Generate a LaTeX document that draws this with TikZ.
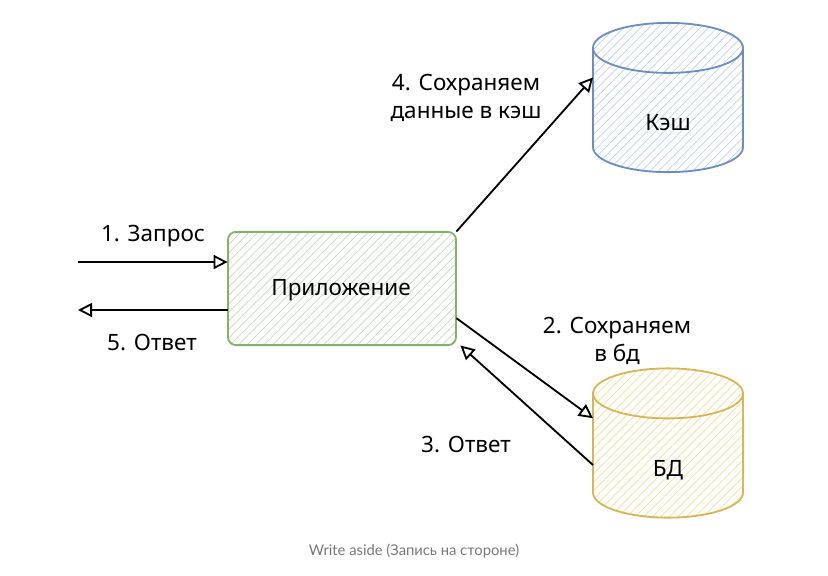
\documentclass[tikz,border=0pt]{standalone}
\usepackage{fontspec}
\setmainfont{Noto Sans}
\newfontfamily\captionfont{Lato}
\usetikzlibrary{arrows.meta,positioning,patterns.meta}
\definecolor{appgreen}{HTML}{82B366}
\definecolor{appgreenhatch}{HTML}{BFDDB6}
\definecolor{cacheblue}{HTML}{6C8EBF}
\definecolor{cachebluehatch}{HTML}{BCCFEC}
\definecolor{dbyellow}{HTML}{D6B656}
\definecolor{dbyellowhatch}{HTML}{F0DE9C}
\definecolor{captiongray}{HTML}{777777}

% cylinder drawn round an invisible box node: #1 node name, #2 stroke, #3 hatch
\newcommand{\drumoutline}[3]{%
  \draw[draw=#2, pattern color=#3, drumline]
    ([yshift=-0.625cm]#1.north west)
      arc[start angle=180, end angle=0, x radius=1.875cm, y radius=0.625cm]
    -- ([yshift=0.625cm]#1.south east)
      arc[start angle=0, end angle=-180, x radius=1.875cm, y radius=0.625cm]
    -- cycle;
  \draw[draw=#2, line width=1.3pt]
    ([yshift=-0.625cm]#1.north west)
      arc[start angle=180, end angle=360, x radius=1.875cm, y radius=0.625cm];
}

\begin{document}
\begin{tikzpicture}[x=0.025cm, y=-0.025cm, >=Stealth,
      font=\fontsize{16}{20}\selectfont,
      hatch/.style={pattern={Lines[angle=45,distance=0.15cm,line width=0.5pt]}},
      appbox/.style={draw=appgreen, line width=1.3pt, rounded corners=0.2cm,
                     minimum width=5.7cm, minimum height=2.83cm, hatch,
                     pattern color=appgreenhatch},
      drumbox/.style={minimum width=3.75cm, minimum height=3.73cm,
                      inner sep=0pt, outer sep=0pt},
      drumline/.style={line width=1.3pt, hatch},
      lbl/.style={align=center, inner sep=1pt},
      arr/.style={-{Triangle[open,length=10pt,width=10pt]}, line width=1.3pt}
    ]
    \useasboundingbox (0,0) rectangle (828,575);

    % boxes
    \node[appbox] (app) at (342,288.5) {};
    \node[lbl] (apptxt) at (341,290) {Приложение};

    \node[drumbox] (cache) at (668,97.5) {};
    \drumoutline{cache}{cacheblue}{cachebluehatch}
    \node[lbl] (cachetxt) at (668,123) {Кэш};

    \node[drumbox] (db) at (668,443) {};
    \drumoutline{db}{dbyellow}{dbyellowhatch}
    \node[lbl] (dbtxt) at (668,470) {БД};

    % request / response
    \coordinate (reqstart) at (78,262);
    \coordinate (respend) at (78,310);
    \draw[arr] (reqstart) -- (app.west |- reqstart);
    \draw[arr] (app.west |- respend) -- (respend);
    \node[lbl] (reqtxt) at (153,236) {1. Запрос};
    \node[lbl] (resptxt) at (152,342) {5. Ответ};

    % storage
    \draw[arr] (app.north east) -- ([yshift=0.5cm]cache.west);
    \draw[arr] ([yshift=-0.74cm]app.east) -- ([yshift=0.62cm]db.west);
    \draw[arr] ([yshift=-0.55cm]db.west) -- ([xshift=0.1cm]app.south east);
    \node[lbl] (cachelbl) at (466,98) {4. Сохраняем\\данные в кэш};
    \node[lbl] (dblbl) at (617,341) {2. Сохраняем\\в бд};
    \node[lbl] (backlbl) at (466,444) {3. Ответ};

    \node[font=\captionfont\fontsize{10.5}{12}\selectfont, text=captiongray] (caption)
          at (414,551) {Write aside (Запись на стороне)};
  \end{tikzpicture}
\end{document}
